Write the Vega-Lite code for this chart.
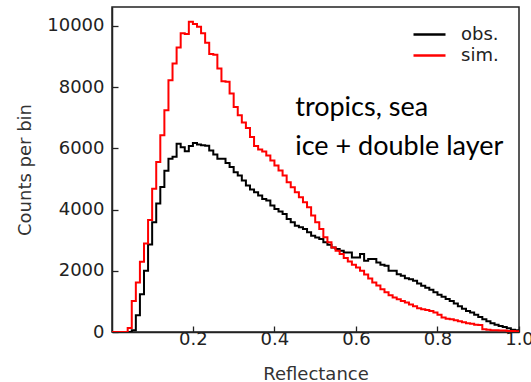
{
  "$schema": "https://vega.github.io/schema/vega-lite/v6.json",
  "width": 407,
  "height": 325,
  "autosize": "none",
  "padding": {"left": 112, "top": 7, "right": 12, "bottom": 50},
  "background": "white",
  "config": {
    "view": {"stroke": "#222", "strokeWidth": 1.5},
    "font": "DejaVu Sans",
    "axis": {
      "grid": false,
      "domainColor": "#222",
      "domainWidth": 1.5,
      "tickColor": "#222",
      "tickWidth": 1.3,
      "tickSize": -6,
      "labelFlush": false,
      "labelFont": "DejaVu Sans",
      "labelFontSize": 18,
      "labelColor": "#222",
      "titleFont": "DejaVu Sans",
      "titleFontSize": 18,
      "titleFontWeight": "normal",
      "titleColor": "#333"
    }
  },
  "datasets": {
    "hist": [
      {"refl": 0.00, "obs": 0, "sim": 0},
      {"refl": 0.01, "obs": 0, "sim": 0},
      {"refl": 0.02, "obs": 0, "sim": 0},
      {"refl": 0.03, "obs": 0, "sim": 0},
      {"refl": 0.04, "obs": 0, "sim": 130},
      {"refl": 0.05, "obs": 60, "sim": 1016},
      {"refl": 0.06, "obs": 550, "sim": 1616},
      {"refl": 0.07, "obs": 1230, "sim": 2295},
      {"refl": 0.08, "obs": 2000, "sim": 2895},
      {"refl": 0.09, "obs": 2860, "sim": 3661},
      {"refl": 0.10, "obs": 3590, "sim": 4678},
      {"refl": 0.11, "obs": 4200, "sim": 5552},
      {"refl": 0.12, "obs": 4740, "sim": 6426},
      {"refl": 0.13, "obs": 5270, "sim": 7246},
      {"refl": 0.14, "obs": 5660, "sim": 8230},
      {"refl": 0.15, "obs": 5730, "sim": 8776},
      {"refl": 0.16, "obs": 6150, "sim": 9300},
      {"refl": 0.17, "obs": 6040, "sim": 9760},
      {"refl": 0.18, "obs": 5910, "sim": 9740},
      {"refl": 0.19, "obs": 6080, "sim": 10140},
      {"refl": 0.20, "obs": 6180, "sim": 10066},
      {"refl": 0.21, "obs": 6130, "sim": 9978},
      {"refl": 0.22, "obs": 6100, "sim": 9760},
      {"refl": 0.23, "obs": 6090, "sim": 9453},
      {"refl": 0.24, "obs": 5930, "sim": 9082},
      {"refl": 0.25, "obs": 5803, "sim": 9060},
      {"refl": 0.26, "obs": 5661, "sim": 8613},
      {"refl": 0.27, "obs": 5661, "sim": 8197},
      {"refl": 0.28, "obs": 5519, "sim": 8180},
      {"refl": 0.29, "obs": 5388, "sim": 7793},
      {"refl": 0.30, "obs": 5224, "sim": 7355},
      {"refl": 0.31, "obs": 5115, "sim": 7082},
      {"refl": 0.32, "obs": 4951, "sim": 6842},
      {"refl": 0.33, "obs": 4787, "sim": 6666},
      {"refl": 0.34, "obs": 4656, "sim": 6371},
      {"refl": 0.35, "obs": 4568, "sim": 6076},
      {"refl": 0.36, "obs": 4459, "sim": 5967},
      {"refl": 0.37, "obs": 4350, "sim": 5900},
      {"refl": 0.38, "obs": 4295, "sim": 5770},
      {"refl": 0.39, "obs": 4131, "sim": 5607},
      {"refl": 0.40, "obs": 4022, "sim": 5443},
      {"refl": 0.41, "obs": 3940, "sim": 5279},
      {"refl": 0.42, "obs": 3858, "sim": 5115},
      {"refl": 0.43, "obs": 3694, "sim": 4896},
      {"refl": 0.44, "obs": 3584, "sim": 4732},
      {"refl": 0.45, "obs": 3475, "sim": 4568},
      {"refl": 0.46, "obs": 3420, "sim": 4404},
      {"refl": 0.47, "obs": 3366, "sim": 4240},
      {"refl": 0.48, "obs": 3257, "sim": 4076},
      {"refl": 0.49, "obs": 3148, "sim": 3803},
      {"refl": 0.50, "obs": 3090, "sim": 3584},
      {"refl": 0.51, "obs": 3038, "sim": 3366},
      {"refl": 0.52, "obs": 2929, "sim": 3093},
      {"refl": 0.53, "obs": 2852, "sim": 2929},
      {"refl": 0.54, "obs": 2765, "sim": 2765},
      {"refl": 0.55, "obs": 2710, "sim": 2656},
      {"refl": 0.56, "obs": 2656, "sim": 2546},
      {"refl": 0.57, "obs": 2601, "sim": 2420},
      {"refl": 0.58, "obs": 2601, "sim": 2300},
      {"refl": 0.59, "obs": 2437, "sim": 2200},
      {"refl": 0.60, "obs": 2437, "sim": 2109},
      {"refl": 0.61, "obs": 2546, "sim": 2000},
      {"refl": 0.62, "obs": 2328, "sim": 1880},
      {"refl": 0.63, "obs": 2383, "sim": 1750},
      {"refl": 0.64, "obs": 2383, "sim": 1620},
      {"refl": 0.65, "obs": 2273, "sim": 1520},
      {"refl": 0.66, "obs": 2200, "sim": 1400},
      {"refl": 0.67, "obs": 2164, "sim": 1300},
      {"refl": 0.68, "obs": 2000, "sim": 1200},
      {"refl": 0.69, "obs": 2000, "sim": 1130},
      {"refl": 0.70, "obs": 1891, "sim": 1070},
      {"refl": 0.71, "obs": 1836, "sim": 1010},
      {"refl": 0.72, "obs": 1760, "sim": 960},
      {"refl": 0.73, "obs": 1720, "sim": 900},
      {"refl": 0.74, "obs": 1672, "sim": 840},
      {"refl": 0.75, "obs": 1585, "sim": 780},
      {"refl": 0.76, "obs": 1508, "sim": 745},
      {"refl": 0.77, "obs": 1450, "sim": 720},
      {"refl": 0.78, "obs": 1380, "sim": 690},
      {"refl": 0.79, "obs": 1300, "sim": 640},
      {"refl": 0.80, "obs": 1220, "sim": 560},
      {"refl": 0.81, "obs": 1150, "sim": 470},
      {"refl": 0.82, "obs": 1080, "sim": 430},
      {"refl": 0.83, "obs": 1016, "sim": 415},
      {"refl": 0.84, "obs": 930, "sim": 380},
      {"refl": 0.85, "obs": 840, "sim": 350},
      {"refl": 0.86, "obs": 760, "sim": 320},
      {"refl": 0.87, "obs": 690, "sim": 290},
      {"refl": 0.88, "obs": 634, "sim": 270},
      {"refl": 0.89, "obs": 560, "sim": 240},
      {"refl": 0.90, "obs": 490, "sim": 230},
      {"refl": 0.91, "obs": 420, "sim": 90},
      {"refl": 0.92, "obs": 350, "sim": 72},
      {"refl": 0.93, "obs": 290, "sim": 60},
      {"refl": 0.94, "obs": 240, "sim": 55},
      {"refl": 0.95, "obs": 197, "sim": 50},
      {"refl": 0.96, "obs": 160, "sim": 45},
      {"refl": 0.97, "obs": 120, "sim": 35},
      {"refl": 0.98, "obs": 70, "sim": 30},
      {"refl": 0.99, "obs": 55, "sim": 25},
      {"refl": 1.00, "obs": 55, "sim": 25}
    ],
    "note": [{"text": "tropics, sea ice + double layer"}]
  },
  "layer": [
    {
      "data": {"name": "hist"},
      "transform": [{"fold": ["obs", "sim"], "as": ["series", "count"]}],
      "mark": {"type": "line", "interpolate": "step-after", "strokeWidth": 2, "clip": true},
      "encoding": {
        "x": {
          "field": "refl", "type": "quantitative",
          "scale": {"domain": [0.0015, 1.0], "nice": false, "zero": false},
          "axis": {"values": [0.2, 0.4, 0.6, 0.8, 1.0], "format": ".1f", "title": "Reflectance", "labelPadding": 4, "titlePadding": 17}
        },
        "y": {
          "field": "count", "type": "quantitative",
          "scale": {"domain": [0, 10620], "nice": false},
          "axis": {"values": [0, 2000, 4000, 6000, 8000, 10000], "format": "d", "title": "Counts per bin", "labelPadding": 14, "titlePadding": 12}
        },
        "color": {
          "field": "series", "type": "nominal",
          "scale": {"domain": ["obs", "sim"], "range": ["#000000", "#ff0000"]},
          "legend": {
            "orient": "none", "legendX": 306, "legendY": 16,
            "title": null,
            "symbolType": "M-1.6,0L1.6,0", "symbolSize": 400, "symbolStrokeWidth": 2.5,
            "symbolFillColor": "transparent",
            "labelFont": "DejaVu Sans", "labelFontSize": 18, "labelColor": "#222",
            "labelOffset": 20, "rowPadding": 0,
            "labelExpr": "datum.label + '.'"
          }
        }
      }
    },
    {
      "data": {"name": "note"},
      "mark": {"type": "text", "text": ["tropics, sea", "ice + double layer"], "font": "Lato", "fontSize": 27, "align": "left", "baseline": "alphabetic", "lineHeight": 39, "color": "#000"},
      "encoding": {
        "x": {"datum": 0.451, "type": "quantitative"},
        "y": {"datum": 7060, "type": "quantitative"}
      }
    }
  ]
}
